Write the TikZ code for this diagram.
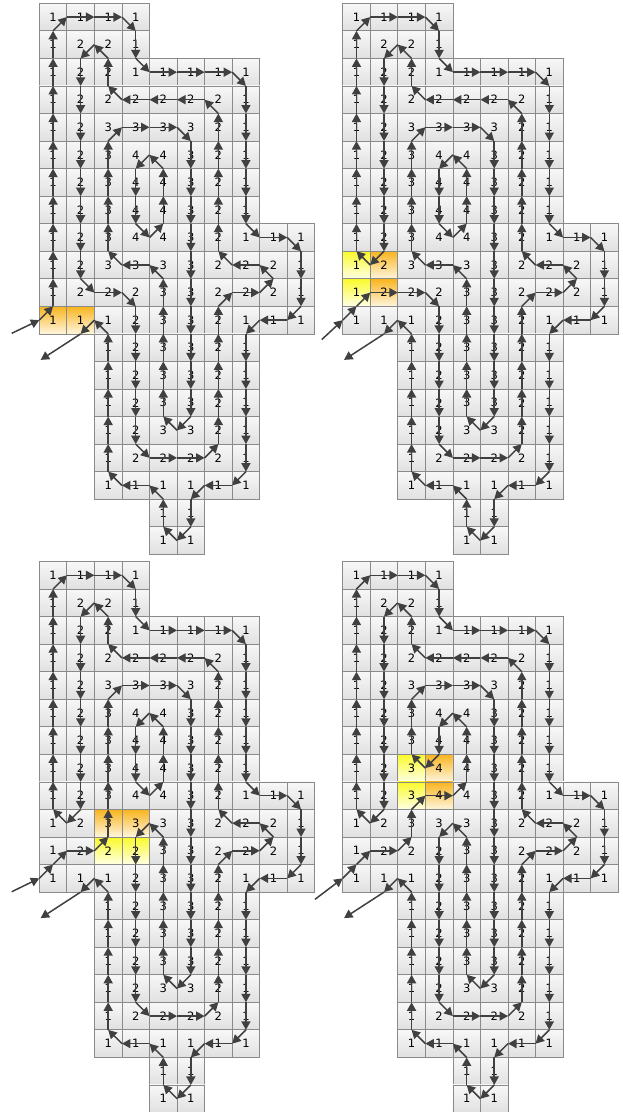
\documentclass[tikz,border=0pt]{standalone}
\usepackage{fontspec}
\setmainfont{DejaVu Sans}
\usetikzlibrary{arrows.meta,calc}
\definecolor{ink}{HTML}{404040}
\definecolor{rim}{HTML}{8A8A8A}
\definecolor{amber}{HTML}{F8B41E}
\definecolor{amberlt}{HTML}{FFF6DE}
\definecolor{lemon}{HTML}{FAFA2A}
\definecolor{lemonlt}{HTML}{FFFFE6}
\def\cs{27.55pt}
\tikzset{cell/.style={draw=rim,line width=0.8pt,minimum size=\cs,inner sep=0pt,outer sep=0pt,
           top color=white!97!black,bottom color=white!88!black,font=\fontsize{11.5}{13}\selectfont},
         hotcell/.style={top color=amber,bottom color=amberlt},
         warmcell/.style={top color=lemon,bottom color=lemonlt},
         trail/.style={-{Triangle[length=8.5pt,width=9pt]},ink,line width=1.5pt},
         % marked blocks
         hl-a-11-0/.style=hotcell,hl-a-11-1/.style=hotcell,
         hl-b-9-0/.style=warmcell,hl-b-10-0/.style=warmcell,hl-b-9-1/.style=hotcell,hl-b-10-1/.style=hotcell,
         hl-c-9-2/.style=hotcell,hl-c-9-3/.style=hotcell,hl-c-10-2/.style=warmcell,hl-c-10-3/.style=warmcell,
         hl-d-7-2/.style=warmcell,hl-d-8-2/.style=warmcell,hl-d-7-3/.style=hotcell,hl-d-8-3/.style=hotcell}
% row / first column / values
\def\grid{0/0/{1,1,1,1},1/0/{1,2,2,1},2/0/{1,2,2,1,1,1,1,1},3/0/{1,2,2,2,2,2,2,1},
  4/0/{1,2,3,3,3,3,2,1},5/0/{1,2,3,4,4,3,2,1},6/0/{1,2,3,4,4,3,2,1},7/0/{1,2,3,4,4,3,2,1},
  8/0/{1,2,3,4,4,3,2,1,1,1},9/0/{1,2,3,3,3,3,2,2,2,1},10/0/{1,2,2,2,3,3,2,2,2,1},
  11/0/{1,1,1,2,3,3,2,1,1,1},12/2/{1,2,3,3,2,1},13/2/{1,2,3,3,2,1},14/2/{1,2,3,3,2,1},
  15/2/{1,2,3,3,2,1},16/2/{1,2,2,2,2,1},17/2/{1,1,1,1,1,1},18/4/{1,1},19/4/{1,1}}
\newcommand\stepnorth{\pgfmathtruncatemacro\wtmp{\wr-1}\xdef\wr{\wtmp}}
\newcommand\stepsouth{\pgfmathtruncatemacro\wtmp{\wr+1}\xdef\wr{\wtmp}}
\newcommand\stepeast{\pgfmathtruncatemacro\wtmp{\wc+1}\xdef\wc{\wtmp}}
\newcommand\stepwest{\pgfmathtruncatemacro\wtmp{\wc-1}\xdef\wc{\wtmp}}
% panel name, top left corner, entry offset
\newcommand\panel[3]{%
  \begin{scope}[shift={#2}]
    \foreach \r/\s/\vals in \grid {
      \foreach \v [count=\k from 0] in \vals {
        \pgfmathtruncatemacro\cc{\s+\k}
        \node[cell,hl-#1-\r-\cc/.try] (#1-\r-\cc) at ({(\cc+.5)*\cs},{-(\r+.5)*\cs}) {\v};
      }}
  \end{scope}
  \coordinate (#1-in) at ($(#1-11-0.west)+#3$);
  \coordinate (#1-out) at ($(#1-11-1.south)+(-40pt,-26pt)$);
  \draw[trail] (#1-in) -- (#1-11-0.west);
  \draw[trail] (#1-11-1.south) -- (#1-out);}
% panel, start row, start col, entry anchor, moves
\newcommand\walk[5]{%
  \xdef\wr{#2}\xdef\wc{#3}\edef\wlist{#5}%
  \coordinate (#1-w) at (#1-#2-#3.#4);
  \foreach \d/\n in \wlist{
    \foreach \k in {1,...,\n}{
      \draw[trail] (#1-w) -- (#1-\wr-\wc.\d);
      \coordinate (#1-w) at (#1-\wr-\wc.\d);
      \csname step\d\endcsname
    }}}
\def\tailpath{north/9,east/3,south/2,east/4,south/6,east/2,south/3,west/2,south/6,west/2,south/2,west/1,north/2,west/2,north/6,west/1,south/1}
\def\ringtwo{east/3,north/6,east/2,north/1,west/2,north/6,west/4,north/2,west/1,south/8,west/1}

\begin{document}
\begin{tikzpicture}
\useasboundingbox (0,0) rectangle (622pt,-1112pt);

\panel{a}{(39.3pt,-3.3pt)}{(-27.6pt,-13.2pt)}
\panel{b}{(342.7pt,-3.3pt)}{(-21pt,-19.5pt)}
\panel{c}{(39.3pt,-561.5pt)}{(-27.6pt,-13.4pt)}
\panel{d}{(342.7pt,-561.5pt)}{(-27.7pt,-21pt)}

% separate rings
\walk{a}{11}{0}{west}{north/11,east/3,south/2,east/4,south/6,east/2,south/3,west/2,south/6,west/2,south/2,west/1,north/2,west/2,north/6,west/1,south/1}
\walk{a}{1}{1}{east}{south/9,east/2,south/6,east/3,north/6,east/2,north/1,west/2,north/6,west/4,north/2,west/1}
\walk{a}{4}{2}{south}{east/3,south/11,west/1,north/6,west/2,north/5}
\walk{a}{5}{3}{east}{south/3,east/1,north/3,west/1}

% ring 2 joined
\walk{b}{11}{0}{west}{north/1,east/3,south/6,\ringtwo,\tailpath}
\walk{b}{4}{2}{south}{east/3,south/11,west/1,north/6,west/2,north/5}
\walk{b}{5}{3}{east}{south/3,east/1,north/3,west/1}

% ring 3 joined
\walk{c}{11}{0}{west}{north/1,east/2,north/6,east/3,south/11,west/1,north/6,west/1,south/7,\ringtwo,\tailpath}
\walk{c}{5}{3}{east}{south/3,east/1,north/3,west/1}

% ring 4 joined
\walk{d}{11}{0}{west}{north/1,east/2,north/2,east/2,north/3,west/1,south/2,west/1,north/3,east/3,south/11,west/1,north/6,west/1,south/7,\ringtwo,\tailpath}
\end{tikzpicture}
\end{document}
